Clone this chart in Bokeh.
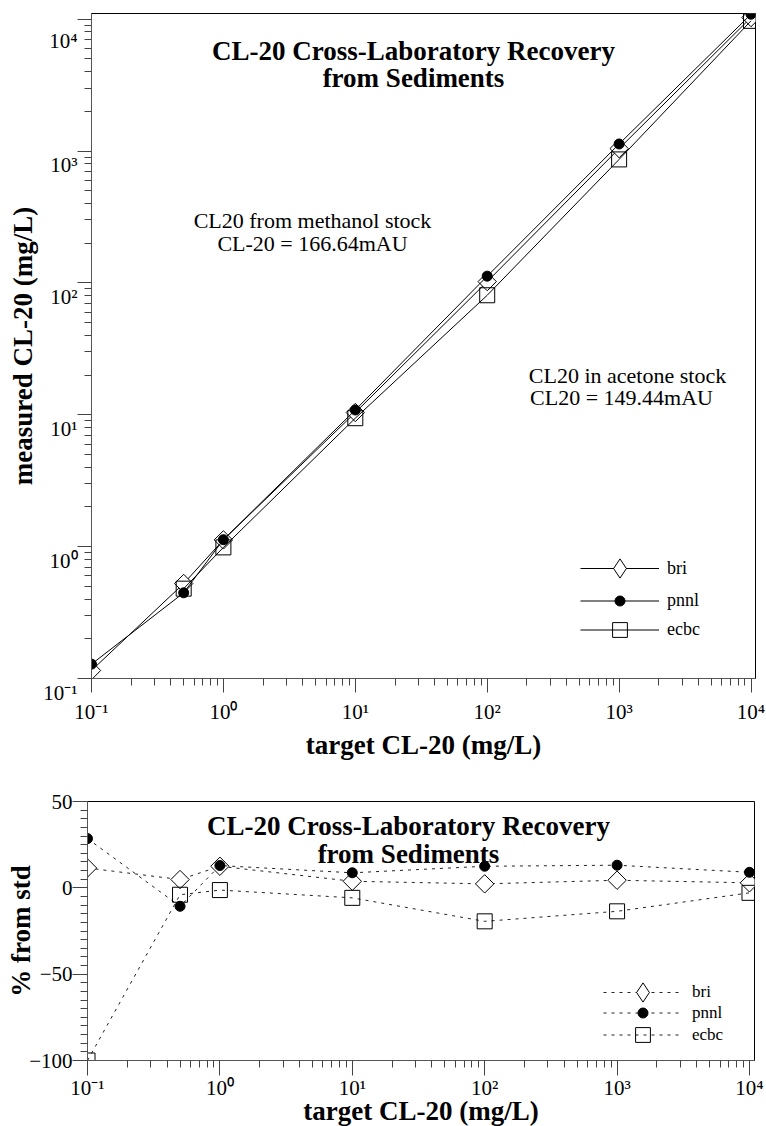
import math

from bokeh.plotting import figure
from bokeh.models import (Range1d, FixedTicker, CustomJSTickFormatter, Label,
                          Legend, LegendItem)
from bokeh.embed import file_html
from bokeh.resources import INLINE

# ---- data -------------------------------------------------------------
target = [0.1, 0.5, 1, 10, 100, 1000, 10000]

# measured CL-20 (mg/L) per laboratory
bri_measured = [0.115, 0.525, 1.125, 10.4, 102.3, 1044, 10290]
pnnl_measured = [0.1285, 0.4465, 1.129, 10.87, 112.5, 1131, 10900]
ecbc_target = [0.5, 1, 10, 100, 1000, 10000]
ecbc_measured = [0.48, 0.987, 9.42, 80.6, 864, 9710]

# percent difference from the standard
bri_pct = [11.5, 4.8, 12.5, 3.8, 2.3, 4.4, 2.9]
pnnl_pct = [28.5, -10.7, 12.9, 8.7, 12.5, 13.1, 9.0]
ecbc_pct = [-100, -4.0, -1.3, -5.8, -19.4, -13.6, -2.9]

labs = ["bri", "pnnl", "ecbc"]

decade_ticks = [0.1, 1, 10, 100, 1000, 10000]
decade_minor = [m * 10.0 ** k for k in range(-1, 4) for m in range(2, 10)]
pct_ticks = [-100, -50, 0, 50]
pct_minor = list(range(-95, 50, 5))

title_lines = ["CL-20 Cross-Laboratory Recovery", "from Sediments"]

# ---- styling helpers ----------------------------------------------------
SERIF = "Liberation Serif"

POW10_JS = """
const sup = {"-": "\u207b", "0": "\u2070", "1": "\u00b9", "2": "\u00b2",
             "3": "\u00b3", "4": "\u2074", "5": "\u2075", "6": "\u2076",
             "7": "\u2077", "8": "\u2078", "9": "\u2079"};
const e = Math.round(Math.log10(tick));
return PREFIX + "10" + String(e).split("").map(c => sup[c]).join("");
"""
pow10_fmt = CustomJSTickFormatter(code=POW10_JS.replace("PREFIX", '""'))
# decade labels sitting just below their tick on the vertical axis
pow10_low_fmt = CustomJSTickFormatter(code=POW10_JS.replace("PREFIX", '"\\n"'))


def style_axis(ax, major_out, minor_out, label_size, standoff, label_standoff):
    ax.axis_line_color = "#555555"
    ax.axis_line_width = 1
    ax.major_tick_line_color = "#444444"
    ax.minor_tick_line_color = "#444444"
    ax.major_tick_in = 0
    ax.minor_tick_in = 0
    ax.major_tick_out = major_out
    ax.minor_tick_out = minor_out
    ax.major_label_text_font = SERIF
    ax.major_label_text_font_size = label_size
    ax.major_label_text_color = "black"
    ax.major_label_standoff = standoff
    ax.axis_label_text_font = SERIF
    ax.axis_label_text_font_style = "bold"
    ax.axis_label_text_font_size = "27px"
    ax.axis_label_text_color = "black"
    ax.axis_label_standoff = label_standoff


def base_style(p):
    p.xgrid.visible = False
    p.ygrid.visible = False
    p.outline_line_color = "black"
    p.outline_line_width = 1
    p.background_fill_color = "white"
    p.border_fill_color = "white"


def add_title(p, cx, y1, y2):
    for txt, yy in zip(title_lines, (y1, y2)):
        p.add_layout(Label(x=cx, y=yy, x_units="screen", y_units="screen",
                           text=txt, text_font=SERIF, text_font_style="bold",
                           text_font_size="27px", text_align="center",
                           text_baseline="alphabetic", text_color="black"))


def add_note(p, cx, y, txt):
    p.add_layout(Label(x=cx, y=y, x_units="screen", y_units="screen",
                       text=txt, text_font=SERIF, text_font_size="22px",
                       text_align="center", text_baseline="alphabetic",
                       text_color="black"))


def add_legend_row(p, label, renderers, x, y, glyph_h, standoff, font_size):
    leg = Legend(items=[LegendItem(label=label, renderers=renderers)],
                 location=(x, y), glyph_width=79, glyph_height=glyph_h,
                 padding=0, margin=0, spacing=0, label_standoff=standoff,
                 label_text_font=SERIF, label_text_font_size=font_size,
                 label_text_color="black", label_height=18,
                 border_line_alpha=0, background_fill_alpha=0,
                 inactive_fill_alpha=0)
    p.add_layout(leg)


# ---- upper panel: measured vs target -----------------------------------
p1 = figure(x_axis_type="log", y_axis_type="log",
            x_range=Range1d(0.1, 10 ** 4.034), y_range=Range1d(0.1, 10 ** 4.043),
            frame_width=664, frame_height=665,
            min_border_left=91, min_border_right=11,
            min_border_top=13, min_border_bottom=92,
            output_backend="svg", toolbar_location=None)
base_style(p1)

p1.xaxis.ticker = FixedTicker(ticks=decade_ticks, minor_ticks=decade_minor)
p1.yaxis.ticker = FixedTicker(ticks=decade_ticks, minor_ticks=decade_minor)
p1.xaxis.formatter = pow10_fmt
p1.yaxis.formatter = pow10_low_fmt
p1.xaxis.axis_label = "target CL-20 (mg/L)"
p1.yaxis.axis_label = "measured CL-20 (mg/L)"
style_axis(p1.xaxis[0], 14, 7, "21px", 7, 3)
style_axis(p1.yaxis[0], 14, 7, "21px", 0, 2)

l_bri = p1.line(target, bri_measured, line_color="black", line_width=1)
s_bri = p1.scatter(target, bri_measured, marker="square", angle=math.pi / 4,
                   size=13, fill_color="white", line_color="black", line_width=1)
l_pnnl = p1.line(target, pnnl_measured, line_color="black", line_width=1)
s_pnnl = p1.scatter(target, pnnl_measured, marker="circle", size=10,
                    fill_color="black", line_color="black")
l_ecbc = p1.line(ecbc_target, ecbc_measured, line_color="black", line_width=1)
s_ecbc = p1.scatter(ecbc_target, ecbc_measured, marker="square", size=15,
                    fill_alpha=0, line_color="black", line_width=1)
# diamond glyph used only for the legend key
k_bri = p1.scatter(target, bri_measured, marker="diamond", size=19,
                   fill_color="white", line_color="black", visible=False)

add_title(p1, 322, 628, 601)
add_note(p1, 221, 458, "CL20 from methanol stock")
add_note(p1, 221, 435, "CL-20 = 166.64mAU")
add_note(p1, 536, 303, "CL20 in acetone stock")
add_note(p1, 530, 281, "CL20 = 149.44mAU")

add_legend_row(p1, labs[0], [l_bri, k_bri], 489, 86, 48, 8, "18px")
add_legend_row(p1, labs[1], [l_pnnl, s_pnnl], 489, 65, 25, 8, "18px")
add_legend_row(p1, labs[2], [l_ecbc, s_ecbc], 489, 30, 37, 8, "18px")

# ---- lower panel: percent from standard --------------------------------
p2 = figure(x_axis_type="log",
            x_range=Range1d(0.1, 10 ** 4.038), y_range=Range1d(-100, 50),
            frame_width=667, frame_height=259,
            min_border_left=87, min_border_right=12,
            min_border_top=31, min_border_bottom=66,
            output_backend="svg", toolbar_location=None)
base_style(p2)

p2.xaxis.ticker = FixedTicker(ticks=decade_ticks, minor_ticks=decade_minor)
p2.xaxis.formatter = pow10_fmt
p2.yaxis.ticker = FixedTicker(ticks=pct_ticks, minor_ticks=pct_minor)
p2.xaxis.axis_label = "target CL-20 (mg/L)"
p2.yaxis.axis_label = "% from std"
style_axis(p2.xaxis[0], 15, 7, "21px", 0, -7)
style_axis(p2.yaxis[0], 15, 7, "21px", 0, -10)

dash = "3 5"
d_bri = p2.line(target, bri_pct, line_color="#222222", line_width=1, line_dash=dash)
m_bri = p2.scatter(target, bri_pct, marker="square", angle=math.pi / 4,
                   size=13, fill_color="white", line_color="black", line_width=1)
d_pnnl = p2.line(target, pnnl_pct, line_color="#222222", line_width=1, line_dash=dash)
m_pnnl = p2.scatter(target, pnnl_pct, marker="circle", size=10,
                    fill_color="black", line_color="black")
d_ecbc = p2.line(target, ecbc_pct, line_color="#222222", line_width=1, line_dash=dash)
m_ecbc = p2.scatter(target, ecbc_pct, marker="square", size=15,
                    fill_alpha=0, line_color="black", line_width=1)
k_bri2 = p2.scatter(target, bri_pct, marker="diamond", size=19,
                    fill_color="white", line_color="black", visible=False)

add_title(p2, 321, 235, 207)

add_legend_row(p2, labs[0], [d_bri, k_bri2], 516, 44, 48, 10, "17px")
add_legend_row(p2, labs[1], [d_pnnl, m_pnnl], 516, 35, 25, 10, "17px")
add_legend_row(p2, labs[2], [d_ecbc, m_ecbc], 516, 7, 37, 10, "17px")

# the two panels are separate roots so each keeps its own frame offset
open("out.html", "w").write(file_html((p1, p2), INLINE))
